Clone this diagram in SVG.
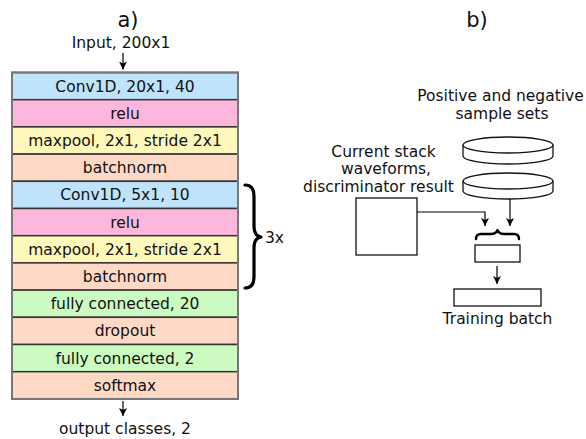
<svg xmlns="http://www.w3.org/2000/svg" width="586" height="439" viewBox="0 0 586 439">
  <defs>
    <marker id="ah" viewBox="0 0 8 10" refX="8" refY="5" markerWidth="8" markerHeight="10" markerUnits="userSpaceOnUse" orient="auto">
      <path d="M0,1 L8,5 L0,9 L2,5 Z" fill="#000"/>
    </marker>
    <style>
      text { font-family: "DejaVu Sans", Verdana, sans-serif; fill: #111; }
      .lbl { font-size: 15.5px; text-anchor: middle; }
      .hd { font-size: 21px; text-anchor: middle; }
      .layer rect { stroke: #333; stroke-width: 1.5; }
      .conv { fill: #bfe3fb; }
      .relu { fill: #fdb7dc; }
      .pool { fill: #fef8bb; }
      .norm { fill: #fedac6; }
      .fc { fill: #cbfbc0; }
      .arrow { fill: none; stroke: #000; stroke-width: 1.2; marker-end: url(#ah); }
      .box { fill: #fff; stroke: #111; stroke-width: 1.3; }
      .brace { fill: none; stroke: #000; stroke-linecap: round; stroke-linejoin: round; }
    </style>
  </defs>

  <!-- panel a: network layers -->
  <text class="hd" x="128" y="27">a)</text>
  <text class="lbl" x="121" y="48">Input, 200x1</text>

  <g id="layers" class="layer">
    <g id="l1"><rect class="conv" x="12" y="72.5" width="226" height="27.2"/><text class="lbl" x="125" y="91.5">Conv1D, 20x1, 40</text></g>
    <g id="l2"><rect class="relu" x="12" y="99.7" width="226" height="27.2"/><text class="lbl" x="125" y="118.7">relu</text></g>
    <g id="l3"><rect class="pool" x="12" y="126.9" width="226" height="27.2"/><text class="lbl" x="125" y="145.9">maxpool, 2x1, stride 2x1</text></g>
    <g id="l4"><rect class="norm" x="12" y="154.1" width="226" height="27.2"/><text class="lbl" x="125" y="173.1">batchnorm</text></g>
    <g id="l5"><rect class="conv" x="12" y="181.3" width="226" height="27.2"/><text class="lbl" x="125" y="200.3">Conv1D, 5x1, 10</text></g>
    <g id="l6"><rect class="relu" x="12" y="208.5" width="226" height="27.2"/><text class="lbl" x="125" y="227.5">relu</text></g>
    <g id="l7"><rect class="pool" x="12" y="235.7" width="226" height="27.2"/><text class="lbl" x="125" y="254.7">maxpool, 2x1, stride 2x1</text></g>
    <g id="l8"><rect class="norm" x="12" y="262.9" width="226" height="27.2"/><text class="lbl" x="125" y="281.9">batchnorm</text></g>
    <g id="l9"><rect class="fc" x="12" y="290.1" width="226" height="27.2"/><text class="lbl" x="125" y="309.1">fully connected, 20</text></g>
    <g id="l10"><rect class="norm" x="12" y="317.3" width="226" height="27.2"/><text class="lbl" x="125" y="336.3">dropout</text></g>
    <g id="l11"><rect class="fc" x="12" y="344.5" width="226" height="27.2"/><text class="lbl" x="125" y="363.5">fully connected, 2</text></g>
    <g id="l12"><rect class="norm" x="12" y="371.7" width="226" height="27.2"/><text class="lbl" x="125" y="390.7">softmax</text></g>
  </g>
  <rect x="12" y="72.5" width="226" height="326.4" fill="none" stroke="#777" stroke-width="2"/>

  <g id="repeat">
    <path class="brace" stroke-width="3.2" d="M245,185 Q254,185 254,196 L254,226 Q254,236 261,237 Q254,238 254,248 L254,277 Q254,288 245,288"/>
    <text x="265" y="243" style="font-size:15.5px">3x</text>
  </g>

  <text class="lbl" x="125" y="434">output classes, 2</text>

  <!-- panel b: training batch assembly -->
  <text class="hd" x="477" y="27">b)</text>
  <text class="lbl" x="500.5" y="101">Positive and negative</text>
  <text class="lbl" x="502" y="119">sample sets</text>
  <text class="lbl" x="383.5" y="157">Current stack</text>
  <text class="lbl" x="386" y="174">waveforms,</text>
  <text class="lbl" x="378.5" y="192">discriminator result</text>

  <g id="disc1">
    <path class="box" d="M463,145 L463,156 A45,8 0 0 0 553,156 L553,145"/>
    <ellipse class="box" cx="508" cy="145" rx="45" ry="8"/>
  </g>
  <g id="disc2">
    <path class="box" d="M463,181 L463,191 A45,8 0 0 0 553,191 L553,181"/>
    <ellipse class="box" cx="508" cy="181" rx="45" ry="8"/>
  </g>

  <g id="current"><rect class="box" x="356" y="198" width="61" height="57"/></g>
  <g id="merge"><rect class="box" x="475" y="245" width="45" height="17"/></g>
  <g id="batch"><rect class="box" x="454" y="289" width="87" height="17"/></g>
  <text class="lbl" x="497.5" y="324">Training batch</text>

  <path class="brace" stroke-width="2.4" d="M476,239 Q476,234 481,234 L491,234 Q496,234 497.5,230 Q499,234 504,234 L514,234 Q519,234 519,239"/>

  <g id="connectors">
    <path class="arrow" d="M123,53 L123,69.5"/>
    <path class="arrow" d="M123,401 L123,416"/>
    <path class="arrow" d="M417,212 L485,212 L485,226"/>
    <path class="arrow" d="M510,199 L510,226"/>
    <path class="arrow" d="M497,266 L497,284"/>
  </g>
</svg>
